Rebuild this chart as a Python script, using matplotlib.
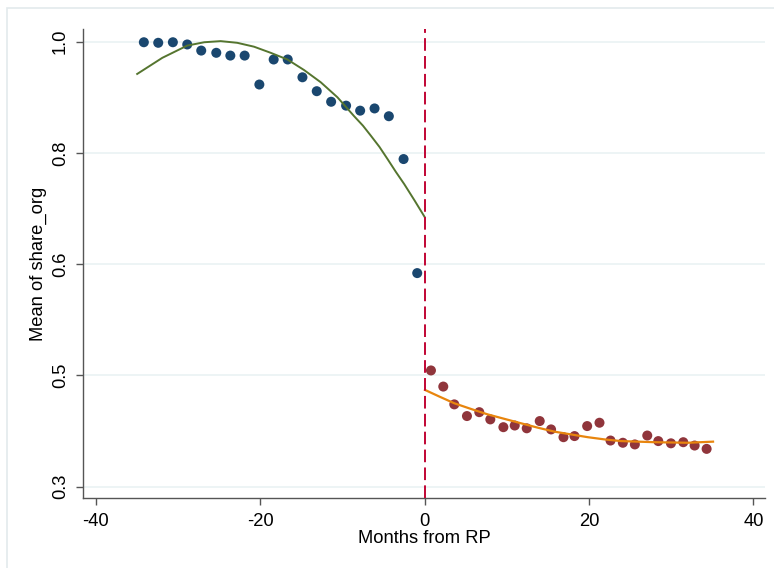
import matplotlib.pyplot as plt
from matplotlib.patches import Rectangle

plt.rcParams['font.family'] = ['Liberation Sans', 'DejaVu Sans']
plt.rcParams['axes.unicode_minus'] = False

# Bin means before the RP (months, share)
x_pre = [-34.15, -32.40, -30.62, -28.87, -27.17, -25.34, -23.63, -21.89, -20.10, -18.36,
         -16.65, -14.86, -13.12, -11.37, -9.55, -7.84, -6.09, -4.35, -2.56, -0.90]
y_pre = [0.999, 0.998, 0.999, 0.995, 0.984, 0.980, 0.975, 0.975, 0.923, 0.968,
         0.968, 0.936, 0.911, 0.892, 0.885, 0.876, 0.880, 0.866, 0.789, 0.584]

# Bin means after the RP
x_post = [0.77, 2.27, 3.61, 5.15, 6.65, 7.99, 9.58, 10.96, 12.42, 14.00, 15.38, 16.89,
          18.23, 19.77, 21.27, 22.61, 24.11, 25.57, 27.08, 28.42, 29.96, 31.46, 32.84, 34.30]
y_post = [0.409, 0.380, 0.348, 0.327, 0.334, 0.321, 0.307, 0.310, 0.305, 0.318, 0.303, 0.289,
          0.291, 0.309, 0.315, 0.283, 0.279, 0.276, 0.292, 0.282, 0.278, 0.280, 0.274, 0.268]

# Quadratic fit lines
fx_pre = [-34.96, -31.9, -28.87, -26.8, -24.81, -22.8, -20.75, -18.72, -16.69, -14.66,
          -12.63, -10.60, -8.57, -7.5, -6.54, -5.5, -4.51, -3.5, -2.48, -1.2, 0.0]
fy_pre = [0.942, 0.971, 0.993, 0.999, 1.001, 0.998, 0.991, 0.980, 0.968, 0.949,
          0.927, 0.900, 0.866, 0.849, 0.831, 0.811, 0.789, 0.766, 0.744, 0.714, 0.685]
fx_post = [0.04, 1.8, 3.61, 5.6, 7.67, 9.7, 11.73, 13.8, 15.79, 17.8, 19.85, 21.9,
           23.91, 27.97, 32.03, 35.08]
fy_post = [0.374, 0.362, 0.350, 0.340, 0.330, 0.322, 0.314, 0.306, 0.299, 0.294, 0.289, 0.285,
           0.282, 0.280, 0.279, 0.281]

ytick_pos = [1.0, 0.8, 0.6, 0.4, 0.2]
ytick_lab = ["1.0", "0.8", "0.6", "0.5", "0.3"]
xtick_pos = [-40, -20, 0, 20, 40]

fig = plt.figure(figsize=(7.74, 5.68), dpi=100)
ax = fig.add_axes([83/774, 70/568, (765-83)/774, (498-29)/568])

# outer frame
fig.patches.append(Rectangle((7/774, -0.01), 1.0, (568-8)/568 + 0.01,
                             transform=fig.transFigure, fill=False,
                             edgecolor="#e3eaec", linewidth=1.2))

for y in ytick_pos:
    ax.axhline(y, color="#eaf2f3", linewidth=1.2, zorder=0)

ax.scatter(x_pre, y_pre, s=52, color="#1a476f", edgecolors="none", zorder=3)
ax.scatter(x_post, y_post, s=52, color="#90353b", edgecolors="none", zorder=3)
ax.plot(fx_pre, fy_pre, color="#55752f", linewidth=1.4, zorder=4)
ax.plot(fx_post, fy_post, color="#e8850d", linewidth=1.6, zorder=4)
ax.axvline(0, color="#c10534", linewidth=1.4, linestyle=(0, (6.5, 2.7)), zorder=5)

ax.set_xlim(-41.55, 41.4)
ax.set_ylim(0.1797, 1.0228)
ax.set_xticks(xtick_pos)
ax.set_yticks(ytick_pos)
ax.set_yticklabels(ytick_lab, rotation=90, va="center")
ax.tick_params(axis="both", direction="out", length=5, width=1, color="#555555",
               labelsize=13.2, labelcolor="black")
ax.tick_params(axis="y", pad=5)
ax.tick_params(axis="x", pad=6)

for s in ["top", "right"]:
    ax.spines[s].set_visible(False)
for s in ["left", "bottom"]:
    ax.spines[s].set_color("#555555")
    ax.spines[s].set_linewidth(1.0)

ax.set_xlabel("Months from RP", fontsize=13.2, labelpad=0)
ax.set_ylabel("Mean of share_org", fontsize=13.2, labelpad=4)

fig.savefig("out.png", dpi=100)
